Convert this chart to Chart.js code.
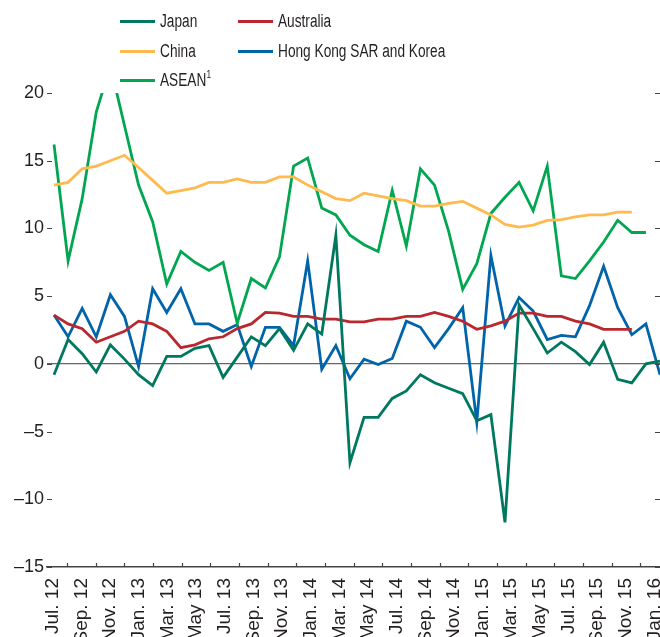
<!DOCTYPE html>
<html>
<head>
<meta charset="utf-8">
<script src="https://cdn.jsdelivr.net/npm/chart.js@4.4.1/dist/chart.umd.min.js"></script>
<style>
  html, body { margin: 0; padding: 0; background: #fff; overflow: hidden; }
  #wrap { position: relative; width: 660px; height: 637px; overflow: hidden; }
  #chart { position: absolute; left: 0; top: 0; }
  .key { position: absolute; display: flex; align-items: center; height: 22px;
         font-family: "Liberation Sans", Arial, sans-serif;
         font-size: 18px; color: #231f20; white-space: nowrap; }
  .key i { display: inline-block; width: 35px; height: 3px; margin-right: 5px; }
  .key span { display: inline-block; transform: scaleX(0.76); transform-origin: 0 50%; }
  .key sup { font-size: 11px; line-height: 0; position: relative; top: -1px; }
</style>
</head>
<body>
<div id="wrap">
  <canvas id="chart" width="660" height="647"></canvas>
  <div class="key" style="left:120px;top:10px"><i style="background:#00775f"></i><span>Japan</span></div>
  <div class="key" style="left:238px;top:10px"><i style="background:#b8282e"></i><span>Australia</span></div>
  <div class="key" style="left:120px;top:40px"><i style="background:#ffba4f"></i><span>China</span></div>
  <div class="key" style="left:238px;top:40px"><i style="background:#0064aa"></i><span>Hong Kong SAR and Korea</span></div>
  <div class="key" style="left:120px;top:69px"><i style="background:#00a650"></i><span>ASEAN<sup>1</sup></span></div>
</div>
<script>
// monthly data, Jul. 2012 - Feb. 2016
const months = [
  'Jul. 12', 'Aug. 12', 'Sep. 12', 'Oct. 12', 'Nov. 12', 'Dec. 12',
  'Jan. 13', 'Feb. 13', 'Mar. 13', 'Apr. 13', 'May 13', 'Jun. 13',
  'Jul. 13', 'Aug. 13', 'Sep. 13', 'Oct. 13', 'Nov. 13', 'Dec. 13',
  'Jan. 14', 'Feb. 14', 'Mar. 14', 'Apr. 14', 'May 14', 'Jun. 14',
  'Jul. 14', 'Aug. 14', 'Sep. 14', 'Oct. 14', 'Nov. 14', 'Dec. 14',
  'Jan. 15', 'Feb. 15', 'Mar. 15', 'Apr. 15', 'May 15', 'Jun. 15',
  'Jul. 15', 'Aug. 15', 'Sep. 15', 'Oct. 15', 'Nov. 15', 'Dec. 15',
  'Jan. 16', 'Feb. 16'
];

// every second month is labelled on the axis
const tickLabels = [
  'Jul. 12', 'Sep. 12', 'Nov. 12', 'Jan. 13', 'Mar. 13', 'May 13',
  'Jul. 13', 'Sep. 13', 'Nov. 13', 'Jan. 14', 'Mar. 14', 'May 14',
  'Jul. 14', 'Sep. 14', 'Nov. 14', 'Jan. 15', 'Mar. 15', 'May 15',
  'Jul. 15', 'Sep. 15', 'Nov. 15', 'Jan. 16'
];

const yTicks = [-15, -10, -5, 0, 5, 10, 15, 20];

const japan = [
  -0.8, 1.8, 0.75, -0.6, 1.4, 0.35, -0.8, -1.6, 0.55, 0.55, 1.15, 1.35,
  -1.0, 0.5, 2.0, 1.35, 2.6, 1.0, 2.95, 2.2, 9.5, -7.3, -3.95, -3.95,
  -2.55, -2.0, -0.8, -1.4, -1.8, -2.2, -4.2, -3.75, -11.7, 4.35, 2.6, 0.8,
  1.6, 0.9, -0.05, 1.6, -1.15, -1.4, 0.0, 0.2
];

const china = [
  13.2, 13.4, 14.4, 14.6, 15.0, 15.4, 14.5, 13.55, 12.6, 12.8, 13.0, 13.4,
  13.4, 13.65, 13.4, 13.4, 13.8, 13.8, 13.2, 12.7, 12.2, 12.05, 12.6, 12.4,
  12.2, 12.05, 11.65, 11.65, 11.85, 12.0, 11.5, 11.0, 10.3, 10.1, 10.25, 10.6,
  10.65, 10.85, 11.0, 11.0, 11.2, 11.2, null, null
];

const asean = [
  16.2, 7.6, 12.2, 18.6, 22.0, 17.6, 13.2, 10.5, 5.9, 8.3, 7.5, 6.9,
  7.5, 3.0, 6.3, 5.6, 7.9, 14.6, 15.2, 11.5, 11.0, 9.5, 8.8, 8.3,
  12.8, 8.7, 14.4, 13.2, 9.8, 5.5, 7.4, 11.1, 12.3, 13.4, 11.3, 14.6,
  6.5, 6.3, 7.6, 9.0, 10.6, 9.7, 9.7, null
];

const australia = [
  3.6, 2.95, 2.6, 1.6, 2.0, 2.4, 3.15, 2.95, 2.4, 1.2, 1.4, 1.85,
  2.0, 2.6, 2.95, 3.8, 3.75, 3.5, 3.5, 3.3, 3.3, 3.1, 3.1, 3.3,
  3.3, 3.5, 3.5, 3.8, 3.5, 3.15, 2.55, 2.8, 3.15, 3.75, 3.75, 3.5,
  3.5, 3.15, 2.95, 2.55, 2.55, 2.55, null, null
];

const hkKorea = [
  3.6, 2.0, 4.1, 2.0, 5.1, 3.5, -0.2, 5.55, 3.8, 5.55, 2.95, 2.95,
  2.4, 2.9, -0.2, 2.7, 2.7, 1.35, 7.6, -0.4, 1.35, -1.1, 0.35, -0.05,
  0.4, 3.15, 2.7, 1.2, 2.6, 4.15, -4.3, 8.0, 2.8, 4.9, 3.9, 1.8,
  2.1, 2.0, 4.3, 7.2, 4.15, 2.15, 2.95, -0.8
];

function pts(values) {
  return values.map((v, i) => ({ x: i, y: v }));
}

function series(label, values, color) {
  return {
    label: label,
    data: pts(values),
    borderColor: color,
    backgroundColor: color,
    borderWidth: 2.8,
    pointRadius: 0,
    tension: 0,
    borderJoinStyle: 'miter',
    spanGaps: false,
    xAxisID: 'x',
    yAxisID: 'y'
  };
}

// small inward tick marks on the left, right and bottom edges
const axisMarks = {
  id: 'axisMarks',
  afterDraw(chart) {
    const { ctx, chartArea: a, scales } = chart;
    ctx.save();
    ctx.strokeStyle = '#444';
    ctx.lineWidth = 1.2;
    ctx.beginPath();
    yTicks.forEach((t) => {
      const py = Math.round(scales.y.getPixelForValue(t)) + 0.5;
      ctx.moveTo(a.left, py);
      ctx.lineTo(a.left + 5, py);
      ctx.moveTo(a.right - 5, py);
      ctx.lineTo(a.right, py);
    });
    for (let k = 1; k < tickLabels.length * 2; k += 2) {
      const px = Math.round(scales.x2.getPixelForValue(k)) + 0.5;
      ctx.moveTo(px, a.bottom);
      ctx.lineTo(px, a.bottom - 4);
    }
    ctx.stroke();
    ctx.restore();
  }
};

Chart.defaults.font.family = '"Liberation Sans", Arial, sans-serif';
Chart.defaults.font.size = 18;
Chart.defaults.color = '#231f20';

new Chart(document.getElementById('chart'), {
  type: 'line',
  data: {
    labels: months,
    datasets: [
      series('Japan', japan, '#00775f'),
      series('China', china, '#ffba4f'),
      series('ASEAN', asean, '#00a650'),
      series('Australia', australia, '#b8282e'),
      series('Hong Kong SAR and Korea', hkKorea, '#0064aa')
    ]
  },
  options: {
    responsive: false,
    maintainAspectRatio: false,
    devicePixelRatio: 1,
    animation: false,
    layout: { padding: { top: 93, right: 0, bottom: 0, left: 0 } },
    plugins: {
      legend: { display: false },
      tooltip: { enabled: false }
    },
    scales: {
      x: {
        type: 'linear',
        display: false,
        min: -0.497,
        max: 43.0
      },
      x2: {
        type: 'linear',
        position: 'bottom',
        min: -0.398,
        max: 42.38,
        afterBuildTicks: (scale) => {
          scale.ticks = tickLabels.flatMap((l, m) => [{ value: 2 * m }, { value: 2 * m + 1 }]).slice(0, 43);
        },
        afterFit: (scale) => {
          scale.height = 80;
          scale.paddingLeft = 0;
          scale.paddingRight = 0;
        },
        grid: { display: true, drawOnChartArea: false, drawTicks: false },
        border: { display: true, color: '#444', width: 1.5 },
        ticks: {
          autoSkip: false,
          maxRotation: 90,
          minRotation: 90,
          padding: 11,
          font: { size: 19 },
          callback: (v) => (v % 2 === 0 ? tickLabels[v / 2] : '')
        }
      },
      y: {
        min: -15,
        max: 20,
        afterBuildTicks: (scale) => {
          scale.ticks = yTicks.map((v) => ({ value: v }));
        },
        afterFit: (scale) => { scale.width = 47; },
        grid: {
          drawOnChartArea: true,
          drawTicks: false,
          lineWidth: 1.2,
          color: (c) => (c.tick && c.tick.value === 0 ? '#666' : 'rgba(0,0,0,0)')
        },
        border: { display: false },
        ticks: {
          padding: 3,
          callback: (v) => (v < 0 ? '\u2013' + Math.abs(v) : String(v))
        }
      }
    }
  },
  plugins: [axisMarks]
});
</script>
</body>
</html>
